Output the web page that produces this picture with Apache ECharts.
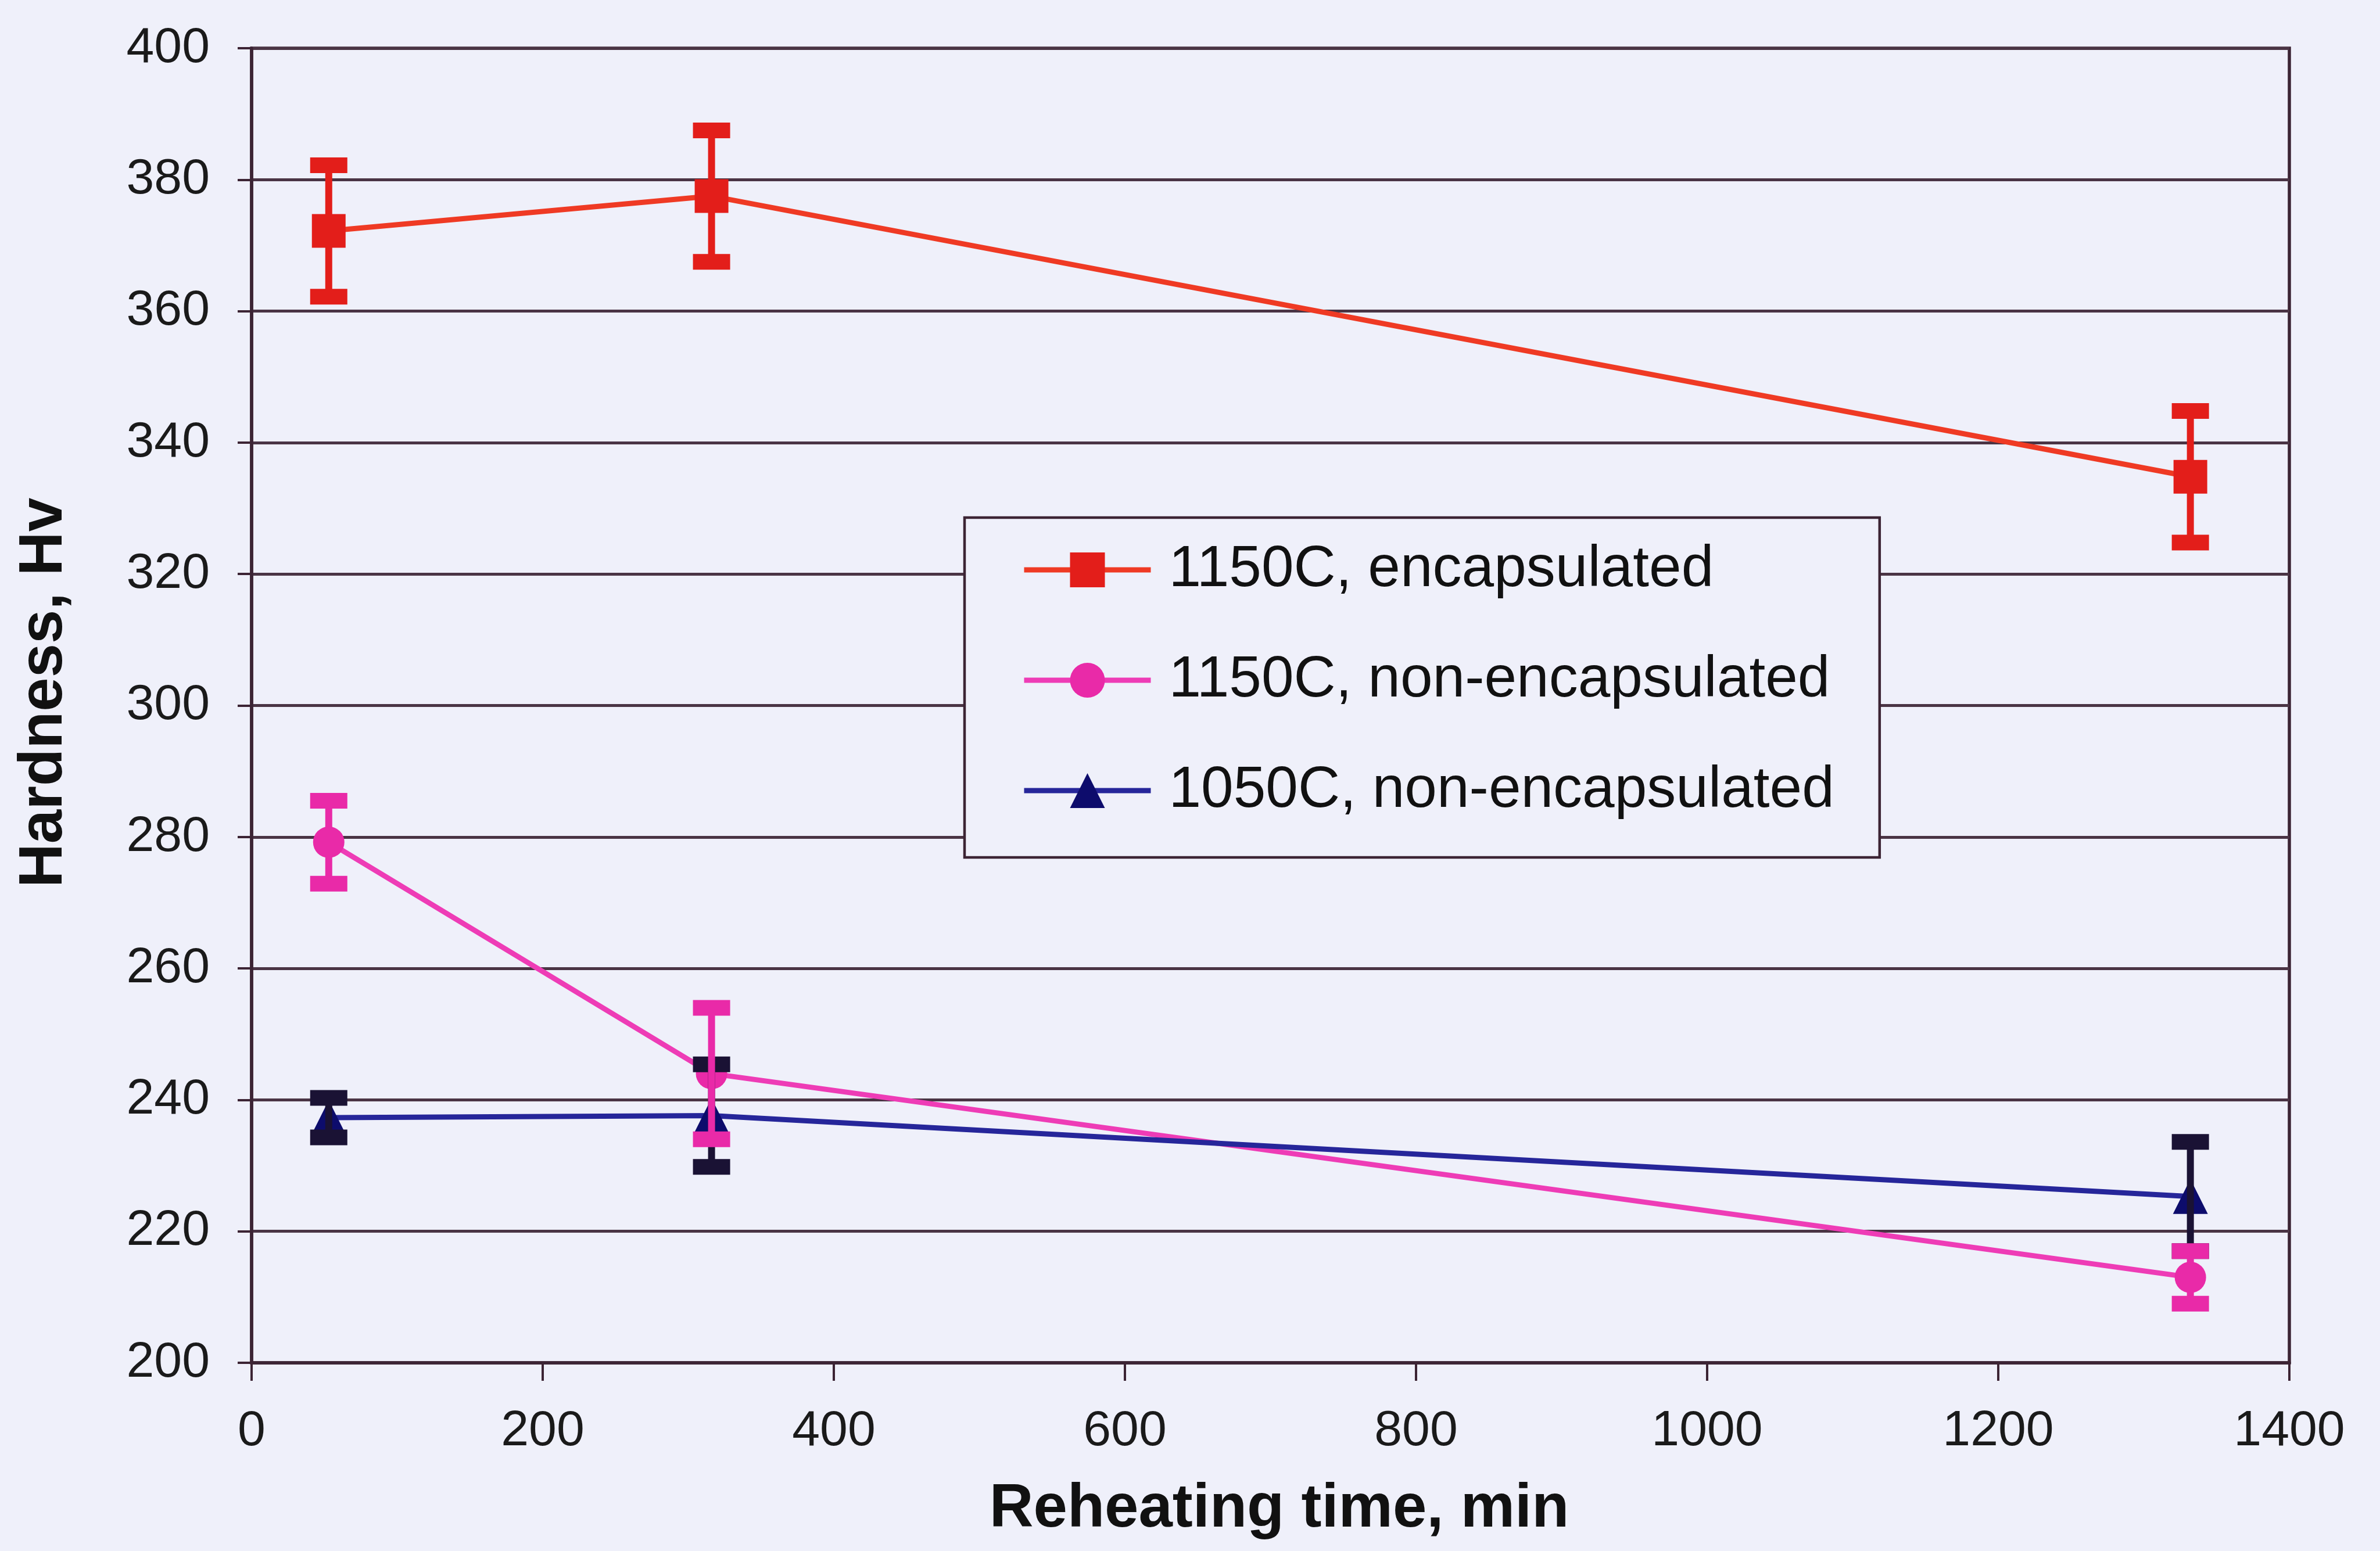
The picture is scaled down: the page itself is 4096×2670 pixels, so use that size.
<!DOCTYPE html>
<html><head><meta charset="utf-8">
<script src="https://cdn.jsdelivr.net/npm/echarts@6/dist/echarts.min.js"></script>
<style>html,body{margin:0;padding:0;background:#eef0fa}#c{width:4096px;height:2670px}</style>
</head><body><div id="c"></div>
<script>
// ---- data ----
const seriesNames = ['1150C, encapsulated', '1150C, non-encapsulated', '1050C, non-encapsulated'];
const enc1150Time = [53, 316, 1332];
const enc1150Hardness = [372.2, 377.5, 334.8];
const enc1150Err = [10, 10, 10];
const non1150Time = [53, 316, 1332];
const non1150Hardness = [279.2, 244.0, 213.0];
const non1150Err = [6.3, 10, 4];
const non1050Time = [53, 316, 1332];
const non1050Hardness = [237.3, 237.6, 225.3];
const non1050Err = [3, 7.8, 8.3];
const xTickValues = [0, 200, 400, 600, 800, 1000, 1200, 1400];
const yTickValues = [200, 220, 240, 260, 280, 300, 320, 340, 360, 380, 400];
const xTitle = 'Reheating time, min';
const yTitle = 'Hardness, Hv';

const FONT = '"Liberation Sans", Arial, Helvetica, sans-serif';
const BG = '#eff0fa';
const AXIS = '#3c2434';

function pts(t, v) { return t.map((x, i) => [x, v[i]]); }
function errs(t, v, e) { return t.map((x, i) => [x, v[i] - e[i], v[i] + e[i]]); }

function errRender(color) {
  const capW = 64, capH = 27, stemW = 12;
  return function (params, api) {
    const x = api.value(0), lo = api.value(1), hi = api.value(2);
    const pL = api.coord([x, lo]), pH = api.coord([x, hi]);
    return {
      type: 'group', children: [
        { type: 'rect', shape: { x: pH[0] - stemW / 2, y: pH[1], width: stemW, height: pL[1] - pH[1] }, style: { fill: color } },
        { type: 'rect', shape: { x: pH[0] - capW / 2, y: pH[1] - capH / 2, width: capW, height: capH }, style: { fill: color } },
        { type: 'rect', shape: { x: pL[0] - capW / 2, y: pL[1] - capH / 2, width: capW, height: capH }, style: { fill: color } }
      ]
    };
  };
}

const chart = echarts.init(document.getElementById('c'), null, { renderer: 'canvas' });
chart.setOption({
  backgroundColor: BG,
  animation: false,
  textStyle: { fontFamily: FONT },
  grid: {
    left: 433, right: 156, top: 83, bottom: 324,
    show: true, backgroundColor: BG, borderColor: AXIS, borderWidth: 5.5
  },
  legend: {
    orient: 'vertical', left: 1660, top: 891,
    data: seriesNames,
    padding: [40, 78, 65, 98],
    itemWidth: 218, itemHeight: 75, itemGap: 90,
    backgroundColor: BG, borderColor: AXIS, borderWidth: 4.5, borderRadius: 0,
    textStyle: { fontSize: 100, lineHeight: 100, color: '#111', fontFamily: FONT, padding: [0, 0, 0, 26] },
    lineStyle: { width: 9 }
  },
  xAxis: {
    type: 'value', min: 0, max: 1400, interval: 200,
    name: xTitle, nameLocation: 'middle', nameGap: 201,
    nameTextStyle: { fontSize: 105, fontWeight: 'bold', color: '#111', fontFamily: FONT, padding: [0, 0, 0, 30] },
    axisLine: { show: true, onZero: false, lineStyle: { color: AXIS, width: 5.5 } },
    axisTick: { show: true, inside: false, length: 31, lineStyle: { color: AXIS, width: 4 } },
    axisLabel: { fontSize: 86, color: '#1a1a1a', margin: 75, fontFamily: FONT,
      formatter: v => xTickValues.indexOf(v) >= 0 ? String(v) : '' },
    splitLine: { show: false }
  },
  yAxis: {
    type: 'value', min: 200, max: 400, interval: 20,
    name: yTitle, nameLocation: 'middle', nameGap: 303,
    nameTextStyle: { fontSize: 105, fontWeight: 'bold', color: '#111', fontFamily: FONT, padding: [0, 0, 0, 44] },
    axisLine: { show: true, onZero: false, lineStyle: { color: AXIS, width: 5.5 } },
    axisTick: { show: true, inside: false, length: 24, lineStyle: { color: AXIS, width: 4 } },
    axisLabel: { fontSize: 86, color: '#1a1a1a', margin: 72, fontFamily: FONT,
      formatter: v => yTickValues.indexOf(v) >= 0 ? String(v) : '' },
    splitLine: { show: true, lineStyle: { color: '#4a3444', width: 5 } }
  },
  series: [
    {
      name: seriesNames[0], type: 'line', data: pts(enc1150Time, enc1150Hardness), z: 2,
      symbol: 'rect', symbolSize: 58,
      itemStyle: { color: '#e31e1a' }, lineStyle: { color: '#ef3a24', width: 9 }
    },
    {
      name: seriesNames[1], type: 'line', data: pts(non1150Time, non1150Hardness), z: 2,
      symbol: 'circle', symbolSize: 54,
      itemStyle: { color: '#e92aa8' }, lineStyle: { color: '#ee3cb6', width: 9 }
    },
    {
      name: seriesNames[2], type: 'line', data: pts(non1050Time, non1050Hardness), z: 2,
      symbol: 'triangle', symbolSize: 60,
      itemStyle: { color: '#0d0c6c' }, lineStyle: { color: '#26269a', width: 9 }
    },
    {
      name: 'err3', type: 'custom', z: 3, data: errs(non1050Time, non1050Hardness, non1050Err),
      encode: { x: 0, y: [1, 2] }, renderItem: errRender('#1a1234')
    },
    {
      name: 'err2', type: 'custom', z: 3, data: errs(non1150Time, non1150Hardness, non1150Err),
      encode: { x: 0, y: [1, 2] }, renderItem: errRender('#e92aa8')
    },
    {
      name: 'err1', type: 'custom', z: 3, data: errs(enc1150Time, enc1150Hardness, enc1150Err),
      encode: { x: 0, y: [1, 2] }, renderItem: errRender('#e31e1a')
    }
  ]
});
</script>
</body></html>
